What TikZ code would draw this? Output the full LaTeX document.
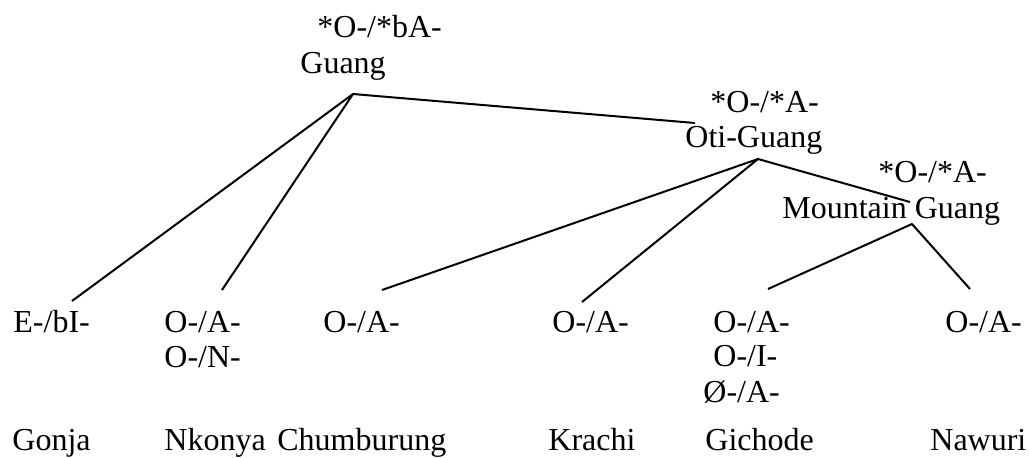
\documentclass[tikz,border=0pt]{standalone}
\usepackage{fontspec}
\setmainfont{Liberation Serif}
\begin{document}
\begin{tikzpicture}[x=0.5pt, y=-0.5pt, form/.style={anchor=base west, inner sep=0pt, font=\fontsize{16}{18}\selectfont}, branch/.style={line width=1pt, line join=round}]
\useasboundingbox (0,0) rectangle (1029,457);
% proto-forms of the branches
\node [form] (guangpre) at (317,37) {*O-/*bA-};
\node [form] (guang) at (300,73) {Guang};
\node [form] (otipre) at (710,112) {*O-/*A-};
\node [form] (oti) at (685,147) {Oti-Guang};
\node [form] (mountainpre) at (878,182) {*O-/*A-};
\node [form] (mountain) at (782,218) {Mountain Guang};
% prefixes of the languages
\node [form] (gonjapre) at (13,332) {E-/bI-};
\node [form] (nkonyapreA) at (164,332) {O-/A-};
\node [form] (nkonyapreB) at (164,367) {O-/N-};
\node [form] (chumburungpre) at (323,332) {O-/A-};
\node [form] (krachipre) at (552,332) {O-/A-};
\node [form] (gichodepreA) at (713,332) {O-/A-};
\node [form] (gichodepreB) at (713,366) {O-/I-};
\node [form] (gichodepreC) at (703,402) {Ø-/A-};
\node [form] (nawuripre) at (945,332) {O-/A-};
% language names
\node [form] (gonja) at (12,450) {Gonja};
\node [form] (nkonya) at (164,450) {Nkonya};
\node [form] (chumburung) at (277,450) {Chumburung};
\node [form] (krachi) at (548,450) {Krachi};
\node [form] (gichode) at (705,450) {Gichode};
\node [form] (nawuri) at (930,450) {Nawuri};
% branch points
\coordinate (guangroot) at (353,94);
\coordinate (otitop) at (695,123);
\coordinate (otiroot) at (758,159);
\coordinate (mountaintop) at (910,202);
\coordinate (mountainroot) at (912,224);
\coordinate (gonjatop) at (72,301);
\coordinate (nkonyatop) at (222,290);
\coordinate (chumburungtop) at (382,290);
\coordinate (krachitop) at (582,302);
\coordinate (gichodetop) at (768,289);
\coordinate (nawuritop) at (970,289);
\draw [branch] (gonjatop) -- (guangroot) -- (otitop);
\draw [branch] (guangroot) -- (nkonyatop);
\draw [branch] (chumburungtop) -- (otiroot) -- (mountaintop);
\draw [branch] (otiroot) -- (krachitop);
\draw [branch] (gichodetop) -- (mountainroot) -- (nawuritop);
\end{tikzpicture}
\end{document}
